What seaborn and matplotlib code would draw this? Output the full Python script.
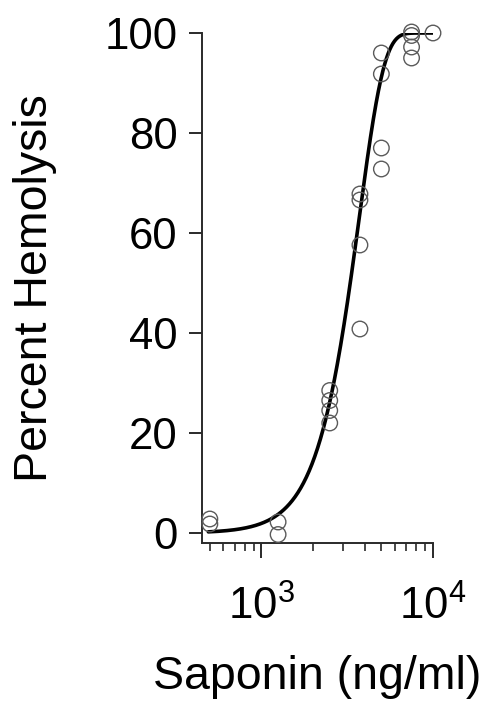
import numpy as np
import pandas as pd
import matplotlib
matplotlib.use("Agg")
import matplotlib.pyplot as plt
import seaborn as sns
from matplotlib.ticker import LogLocator, LogFormatterSciNotation, NullFormatter

# ---- data ----
saponin_ng_ml = [500, 500,
                 1250, 1250,
                 2500, 2500, 2500, 2500,
                 3750, 3750, 3750, 3750,
                 5000, 5000, 5000, 5000,
                 7500, 7500, 7500, 7500,
                 10000]
hemolysis_pct = [2.8, 1.8,
                 2.2, -0.3,
                 28.5, 26.5, 24.5, 22.0,
                 67.8, 66.6, 57.6, 40.8,
                 96.0, 91.8, 77.0, 72.8,
                 100.2, 99.5, 97.2, 95.0,
                 100.0]

# fitted sigmoid (cumulative Weibull) parameters
fit_top = 100.0
fit_scale = 3720.0
fit_shape = 3.0
fit_x_range = [490, 10000]

y_ticks = [0, 20, 40, 60, 80, 100]

sns.set_style("ticks")
plt.rcParams["font.family"] = ["Liberation Sans", "DejaVu Sans"]
plt.rcParams["mathtext.fontset"] = "custom"
plt.rcParams["mathtext.rm"] = "Liberation Sans"
plt.rcParams["mathtext.it"] = "Liberation Sans"
plt.rcParams["text.color"] = "black"
plt.rcParams["axes.labelcolor"] = "black"
plt.rcParams["xtick.color"] = "black"
plt.rcParams["ytick.color"] = "black"

df = pd.DataFrame({"x": saponin_ng_ml, "y": hemolysis_pct})
xf = np.logspace(np.log10(fit_x_range[0]), np.log10(fit_x_range[1]), 400)
fit_df = pd.DataFrame({"x": xf,
                       "y": fit_top * (1 - np.exp(-(xf / fit_scale) ** fit_shape))})

fig = plt.figure(figsize=(4.90, 7.19), dpi=100)
ax = fig.add_axes([202 / 490, 1 - 543 / 719, (433 - 202) / 490, (543 - 33) / 719])

sns.lineplot(data=fit_df, x="x", y="y", ax=ax, color="black", lw=2.6, zorder=3)
sns.scatterplot(data=df, x="x", y="y", ax=ax, marker="o", s=125,
                facecolor="none", edgecolor="#5a5a5a", linewidth=1.0,
                zorder=4, clip_on=False)

ax.set_xscale("log")
ax.set_xlim(450, 10000)
ax.set_ylim(-2, 100)
ax.set_yticks(y_ticks)
ax.xaxis.set_major_locator(LogLocator(base=10, numticks=10))
ax.xaxis.set_minor_locator(LogLocator(base=10, subs=np.arange(2, 10), numticks=10))
ax.xaxis.set_major_formatter(LogFormatterSciNotation())
ax.xaxis.set_minor_formatter(NullFormatter())

for sp in ["top", "right"]:
    ax.spines[sp].set_visible(False)
for sp in ["left", "bottom"]:
    ax.spines[sp].set_linewidth(1.4)
    ax.spines[sp].set_color("#2a2a2a")

ax.tick_params(axis="y", which="major", length=9.5, width=1.4, color="#2a2a2a",
               labelsize=31.5, pad=8, labelcolor="black")
ax.tick_params(axis="x", which="major", length=10.5, width=1.4, color="#2a2a2a",
               labelsize=31.5, pad=20, labelcolor="black")
ax.tick_params(axis="x", which="minor", length=6, width=1.2, color="#2a2a2a")

ax.set_xlabel("Saponin (ng/ml)", fontsize=33.5, labelpad=19, color="black")
ax.set_ylabel("Percent Hemolysis", fontsize=33.5, labelpad=34, color="black")

fig.savefig("out.png", dpi=100)
